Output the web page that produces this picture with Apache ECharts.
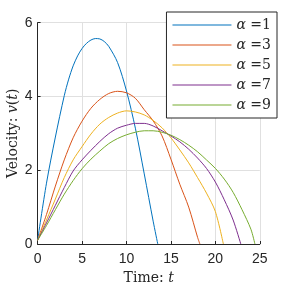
<!DOCTYPE html>
<html>
<head>
<meta charset="utf-8">
<script src="https://cdn.jsdelivr.net/npm/echarts@6/dist/echarts.min.js"></script>
<style>
html,body{margin:0;padding:0;background:#fff;}
#c{width:288px;height:288px;}
</style>
</head>
<body>
<div id="c"></div>
<script>
// Data
const alphaLabels = ['α =1', 'α =3', 'α =5', 'α =7', 'α =9'];
const colors = ['#0072BD', '#D95319', '#EDB120', '#7E2F8E', '#77AC30'];

const t1 = [0, 1, 2, 3, 3.5, 4, 4.5, 5, 5.5, 6, 6.5, 7, 7.5, 8, 9, 10, 11, 12, 13, 13.52];
const v1 = [0.1, 1.65, 2.9, 4.02, 4.47, 4.83, 5.1, 5.3, 5.44, 5.53, 5.57, 5.56, 5.49, 5.36, 4.92, 4.15, 3.14, 1.9, 0.62, 0];

const t3 = [0, 1, 2, 3, 4, 5, 6, 7, 8, 9, 10, 11, 12, 13, 14, 15, 16, 17, 18, 18.26];
const v3 = [0.1, 0.8, 1.57, 2.28, 2.88, 3.33, 3.68, 3.92, 4.08, 4.14, 4.1, 3.95, 3.64, 3.34, 2.93, 2.3, 1.62, 1.0, 0.18, 0];

const t5 = [0, 1, 2, 3, 4, 5, 6, 7, 8, 9, 10, 11, 12, 13, 14, 15, 16, 17, 18, 19, 20, 20.9];
const v5 = [0.1, 0.65, 1.22, 1.8, 2.28, 2.64, 2.98, 3.25, 3.43, 3.55, 3.61, 3.58, 3.5, 3.35, 3.15, 2.88, 2.55, 2.2, 1.8, 1.38, 0.88, 0];

const t7 = [0, 1, 2, 3, 4, 5, 6, 7, 8, 9, 10, 11, 12, 13, 14, 15, 16, 17, 18, 19, 20, 21, 22, 22.86];
const v7 = [0.1, 0.57, 1.05, 1.53, 1.98, 2.28, 2.54, 2.78, 2.99, 3.14, 3.22, 3.27, 3.27, 3.2, 3.07, 2.93, 2.77, 2.57, 2.33, 2.05, 1.68, 1.2, 0.65, 0];

const t9 = [0, 1, 2, 3, 4, 5, 6, 7, 8, 9, 10, 11, 12, 13, 14, 15, 16, 17, 18, 19, 20, 21, 22, 23, 24, 24.45];
const v9 = [0.1, 0.5, 0.93, 1.35, 1.72, 2.04, 2.3, 2.52, 2.72, 2.86, 2.96, 3.03, 3.07, 3.07, 3.03, 2.95, 2.83, 2.68, 2.5, 2.28, 2.05, 1.76, 1.4, 0.93, 0.4, 0];

const xTicks = [0, 5, 10, 15, 20, 25];
const yTicks = [0, 2, 4, 6];

const tSets = [t1, t3, t5, t7, t9];
const vSets = [v1, v3, v5, v7, v9];

const chart = echarts.init(document.getElementById('c'), null, {renderer: 'canvas'});
const axisCol = '#262626';
const serif = 'DejaVu Serif';

const series = alphaLabels.map((name, i) => ({
  name: name,
  type: 'line',
  data: tSets[i].map((t, j) => [t, vSets[i][j]]),
  symbol: 'none',
  showSymbol: false,
  smooth: 0.3,
  lineStyle: {color: colors[i], width: 1},
  itemStyle: {color: colors[i]},
  animation: false
}));

chart.setOption({
  animation: false,
  backgroundColor: '#ffffff',
  grid: {left: 37.6, right: 28.2, top: 22.7, bottom: 44, containLabel: false, outerBoundsMode: 'none'},
  xAxis: {
    type: 'value',
    min: xTicks[0], max: xTicks[xTicks.length - 1], interval: 5,
    name: 'Time: {i|t}',
    nameLocation: 'middle',
    nameGap: 27,
    nameMoveOverlap: false,
    nameTextStyle: {
      fontFamily: serif, fontSize: 14, color: axisCol,
      rich: {i: {fontFamily: serif, fontStyle: 'italic', fontSize: 14, color: axisCol}}
    },
    axisLine: {show: true, lineStyle: {color: axisCol, width: 1}},
    axisTick: {show: true, inside: true, length: 3, lineStyle: {color: axisCol}},
    axisLabel: {fontFamily: 'Liberation Sans', fontSize: 14, color: axisCol, margin: 8},
    splitLine: {show: true, lineStyle: {color: '#e0e0e0', width: 1}}
  },
  yAxis: {
    type: 'value',
    min: yTicks[0], max: yTicks[yTicks.length - 1], interval: 2,
    name: 'Velocity: {i|v}({i|t})',
    nameLocation: 'middle',
    nameGap: 17,
    nameMoveOverlap: false,
    nameTextStyle: {
      fontFamily: serif, fontSize: 14, color: axisCol,
      rich: {i: {fontFamily: serif, fontStyle: 'italic', fontSize: 14, color: axisCol}}
    },
    axisLine: {show: true, lineStyle: {color: axisCol, width: 1}},
    axisTick: {show: true, inside: true, length: 3, lineStyle: {color: axisCol}},
    axisLabel: {fontFamily: 'Liberation Sans', fontSize: 14, color: axisCol, margin: 5},
    splitLine: {show: true, lineStyle: {color: '#e0e0e0', width: 1}}
  },
  legend: {
    orient: 'vertical',
    right: 11,
    top: 12,
    padding: [6, 6, 6, 6],
    icon: 'rect',
    itemWidth: 59,
    itemHeight: 1,
    itemGap: 6,
    backgroundColor: '#ffffff',
    borderColor: '#262626',
    borderWidth: 1,
    borderRadius: 0,
    data: alphaLabels,
    formatter: function (name) { return '{i|α}' + name.slice(1); },
    textStyle: {
      fontFamily: serif, fontSize: 14, lineHeight: 14, color: axisCol,
      rich: {i: {fontFamily: serif, fontStyle: 'italic', fontSize: 14, lineHeight: 14, color: axisCol}}
    }
  },
  series: series
});
</script>
</body>
</html>
